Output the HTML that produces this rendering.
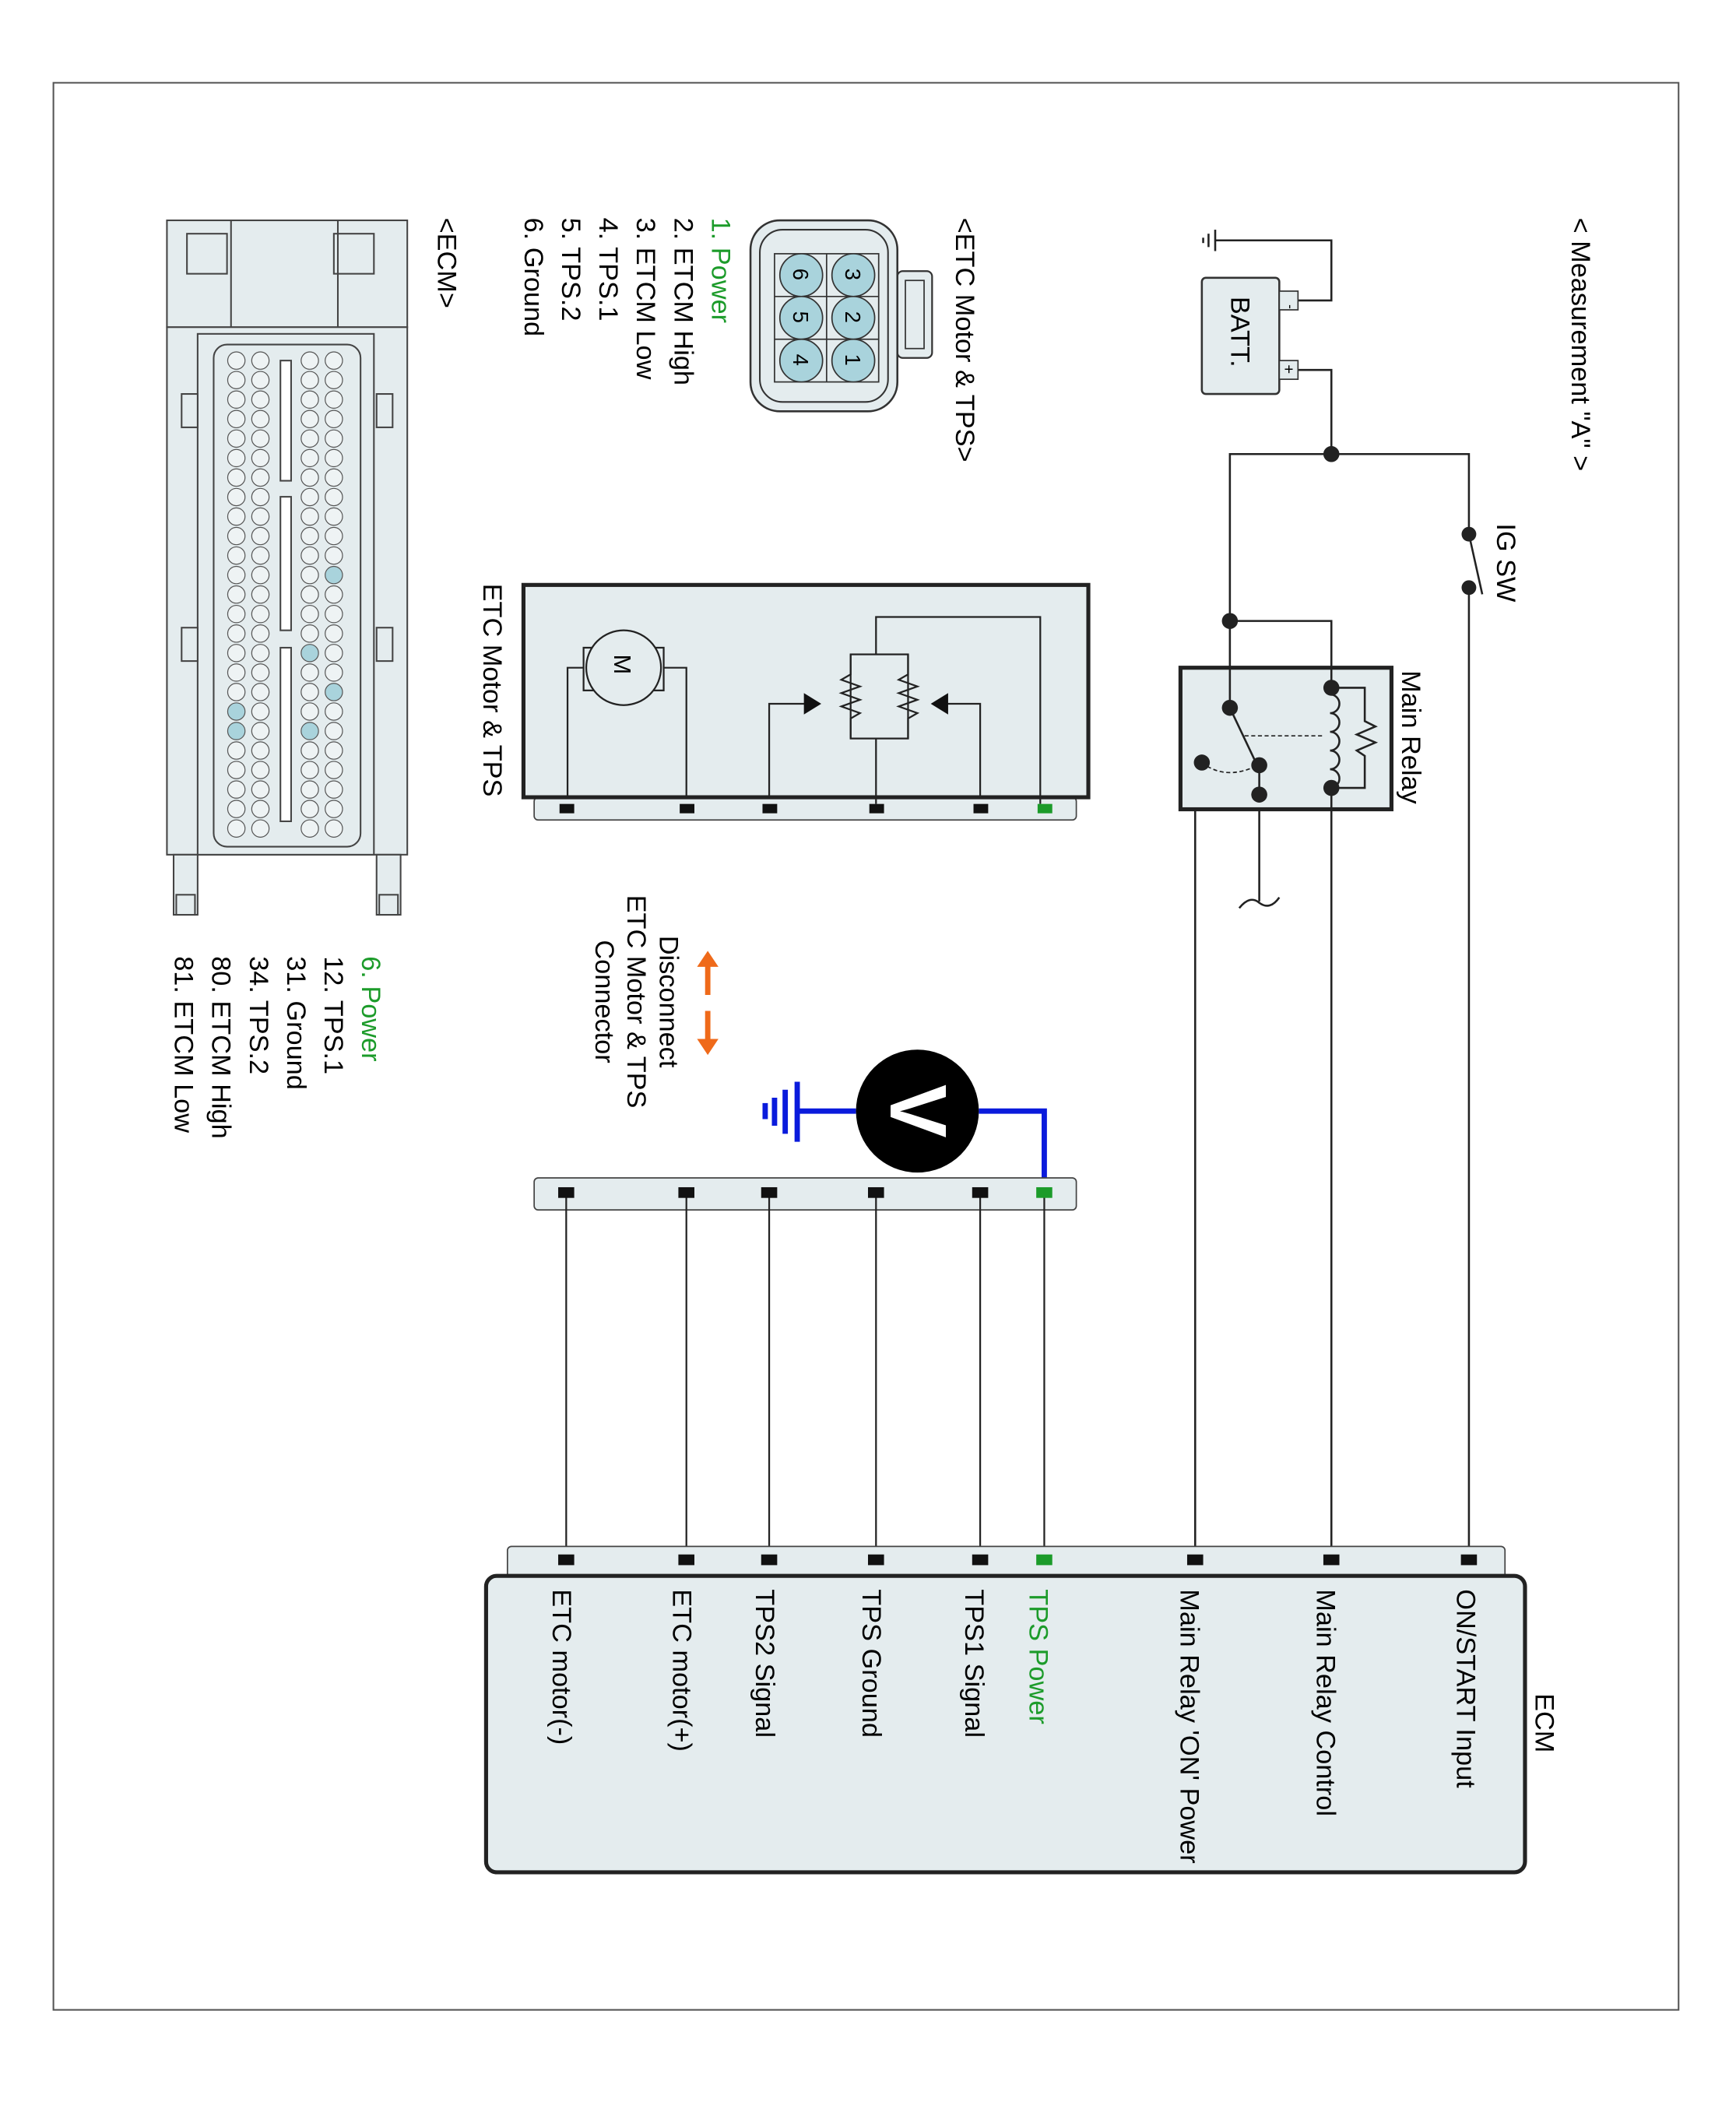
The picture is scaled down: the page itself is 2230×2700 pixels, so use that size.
<!DOCTYPE html>
<html><head><meta charset="utf-8"><style>
html,body{margin:0;padding:0;background:#fff;}
svg{display:block;}
text{font-family:"Liberation Sans",Arial,sans-serif;}
</style></head><body>
<svg width="2230" height="2700" viewBox="0 0 1300 1574" preserveAspectRatio="none" xmlns="http://www.w3.org/2000/svg">
<rect x="40" y="62" width="1217" height="1443" fill="#fff" stroke="#555" stroke-width="1.2"/>
<g fill="none" stroke="#222" stroke-width="1.5">
<!-- battery wiring -->
<polyline points="972,225 997,225 997,180 910,180"/>
<line x1="910" y1="172" x2="910" y2="188"/>
<line x1="905" y1="175" x2="905" y2="185"/>
<line x1="901" y1="178" x2="901" y2="182"/>
<polyline points="972,277 997,277 997,340"/>
<polyline points="921,530 921,340 1100,340 1100,400"/>
<line x1="1100" y1="440" x2="1100" y2="1165"/>
<line x1="1100" y1="400" x2="1110" y2="445"/>
<polyline points="921,465 997,465 997,515"/>
<line x1="997" y1="590" x2="997" y2="1165"/>
<polyline points="943,595 895,595 895,1165"/>
<line x1="943" y1="573" x2="943" y2="675"/>
<path d="M928,680 q8,-10 15,-4 q8,6 15,-4"/>
</g>
<g fill="#222">
<circle cx="997" cy="340" r="6"/><circle cx="921" cy="465" r="6"/>
<circle cx="1100" cy="400" r="5.5"/><circle cx="1100" cy="440" r="5.5"/>
</g>
<!-- battery -->
<rect x="900" y="208" width="58" height="87" rx="3" fill="#e4ecee" stroke="#333" stroke-width="1.5"/>
<rect x="958" y="218" width="14" height="14" fill="#e4ecee" stroke="#333"/>
<rect x="958" y="270" width="14" height="14" fill="#e4ecee" stroke="#333"/>
<text transform="translate(963,228) rotate(90)" font-size="10">-</text>
<text transform="translate(961,273) rotate(90)" font-size="12">+</text>
<text transform="translate(922,222) rotate(90)" font-size="20">BATT.</text>
<text transform="translate(1177,163) rotate(90)" font-size="20">&lt; Measurement "A" &gt;</text>
<text transform="translate(1121,392) rotate(90)" font-size="20">IG SW</text>
<!-- relay -->
<rect x="884" y="500" width="158" height="106" fill="#e4ecee" stroke="#222" stroke-width="3"/>
<text transform="translate(1050,502) rotate(90)" font-size="20">Main Relay</text>
<g fill="none" stroke="#222" stroke-width="1.5">
<line x1="921" y1="500" x2="921" y2="530"/>
<line x1="997" y1="500" x2="997" y2="515"/>
<line x1="997" y1="590" x2="997" y2="606"/>
<path d="M997,520 a7,7 0 0 1 0,14 a7,7 0 0 1 0,14 a7,7 0 0 1 0,14 a7,7 0 0 1 0,14 a7,7 0 0 1 0,14" transform="translate(-1,0)"/>
<polyline points="997,515 1022,515 1022,540 1030,544 1016,550 1030,556 1016,562 1022,566 1022,590 997,590"/>
<line x1="921" y1="530" x2="940" y2="570"/>
<line x1="932" y1="551" x2="992" y2="551" stroke-dasharray="3,2" stroke-width="1"/>
<path d="M900,571 q18,14 42,2" stroke-dasharray="3,2" stroke-width="1"/>
<line x1="943" y1="573" x2="943" y2="595"/>
</g>
<g fill="#222">
<circle cx="997" cy="515" r="6"/><circle cx="997" cy="590" r="6"/>
<circle cx="921" cy="530" r="6"/><circle cx="943" cy="573" r="6"/><circle cx="943" cy="595" r="6"/><circle cx="900" cy="571" r="6"/>
</g>
<!-- ETC motor & TPS box -->
<rect x="400" y="597" width="406" height="17" rx="3" fill="#e4ecee" stroke="#444"/>
<rect x="392" y="438" width="423" height="159" fill="#e4ecee" stroke="#222" stroke-width="3"/>
<text transform="translate(362,437) rotate(90)" font-size="20">ETC Motor &amp; TPS</text>
<g fill="none" stroke="#222" stroke-width="1.3">
<polyline points="425,597 425,500 437,500"/>
<polyline points="514,597 514,500 497,500"/>
<rect x="437" y="485" width="60" height="32" fill="#e4ecee"/>
<polyline points="576,597 576,527 605,527"/>
<polyline points="734,597 734,527 708,527"/>
<polyline points="656,490 656,462 779,462 779,602"/>
<line x1="656" y1="553" x2="656" y2="602"/>
<rect x="637" y="490" width="43" height="63"/>
<polyline points="637,490 637,505 630,509 644,514 630,519 644,524 630,529 644,534 637,538 637,553"/>
<polyline points="680,490 680,505 673,509 687,514 673,519 687,524 673,529 687,534 680,538 680,553"/>
</g>
<circle cx="467" cy="500" r="28" fill="#e4ecee" stroke="#222" stroke-width="1.3"/>
<text transform="translate(460,490) rotate(90)" font-size="18">M</text>
<polygon points="615,527 602,519 602,535" fill="#111"/>
<polygon points="697,527 710,519 710,535" fill="#111"/>
<g fill="#111">
<rect x="419" y="602" width="11" height="7"/><rect x="509" y="602" width="11" height="7"/><rect x="571" y="602" width="11" height="7"/><rect x="651" y="602" width="11" height="7"/><rect x="729" y="602" width="11" height="7"/><rect x="777" y="602" width="11" height="7" fill="#1c9b2a"/>
</g>
<!-- 6-pin connector -->
<rect x="672" y="203" width="26" height="65" rx="4" fill="#e4ecee" stroke="#333" stroke-width="1.3"/>
<rect x="678" y="210" width="14" height="51" fill="none" stroke="#333"/>
<rect x="562" y="165" width="110" height="143" rx="22" fill="#e4ecee" stroke="#333" stroke-width="1.5"/>
<rect x="569" y="172" width="96" height="129" rx="17" fill="none" stroke="#333" stroke-width="1.2"/>
<rect x="580" y="190" width="78" height="96" fill="none" stroke="#333"/>
<line x1="619" y1="190" x2="619" y2="286" stroke="#333"/>
<line x1="580" y1="222" x2="658" y2="222" stroke="#333"/><line x1="580" y1="254" x2="658" y2="254" stroke="#333"/>
<g fill="#a9d3dc" stroke="#333">
<circle cx="600" cy="206" r="16"/><circle cx="600" cy="238" r="16"/><circle cx="600" cy="270" r="16"/>
<circle cx="639" cy="206" r="16"/><circle cx="639" cy="238" r="16"/><circle cx="639" cy="270" r="16"/>
</g>
<g font-size="16">
<text transform="translate(594,201) rotate(90)">6</text><text transform="translate(594,233) rotate(90)">5</text><text transform="translate(594,265) rotate(90)">4</text>
<text transform="translate(633,201) rotate(90)">3</text><text transform="translate(633,233) rotate(90)">2</text><text transform="translate(633,265) rotate(90)">1</text>
</g>
<text transform="translate(716,163) rotate(90)" font-size="20">&lt;ETC Motor &amp; TPS&gt;</text>
<g font-size="20">
<text transform="translate(533,163) rotate(90)" fill="#1c9b2a">1. Power</text>
<text transform="translate(505,163) rotate(90)">2. ETCM High</text>
<text transform="translate(477,163) rotate(90)">3. ETCM Low</text>
<text transform="translate(449,163) rotate(90)">4. TPS.1</text>
<text transform="translate(421,163) rotate(90)">5. TPS.2</text>
<text transform="translate(393,163) rotate(90)">6. Ground</text>
</g>
<!-- ECM connector drawing -->
<g fill="#e4ecee" stroke="#444" stroke-width="1.2">
<rect x="125" y="165" width="180" height="80"/>
<rect x="140" y="175" width="30" height="30" fill="none"/><rect x="250" y="175" width="30" height="30" fill="none"/>
<line x1="173" y1="165" x2="173" y2="245" fill="none"/><line x1="253" y1="165" x2="253" y2="245" fill="none"/>
<rect x="125" y="245" width="180" height="395"/>
<rect x="148" y="250" width="132" height="390"/>
<rect x="160" y="258" width="110" height="376" rx="10"/>
<rect x="210" y="270" width="8" height="90" fill="#fff"/><rect x="210" y="372" width="8" height="100" fill="#fff"/><rect x="210" y="485" width="8" height="130" fill="#fff"/>
<rect x="130" y="640" width="18" height="45"/><rect x="282" y="640" width="18" height="45"/>
<rect x="132" y="670" width="14" height="15"/><rect x="284" y="670" width="14" height="15"/>
<rect x="282" y="295" width="12" height="25"/><rect x="282" y="470" width="12" height="25"/><rect x="136" y="470" width="12" height="25"/><rect x="136" y="295" width="12" height="25"/>
</g>
<g id="pins" fill="#eef3f4" stroke="#555" stroke-width="0.7"></g>
<text transform="translate(328,163) rotate(90)" font-size="20">&lt;ECM&gt;</text>
<g font-size="20">
<text transform="translate(271,716) rotate(90)" fill="#1c9b2a">6. Power</text>
<text transform="translate(243,716) rotate(90)">12. TPS.1</text>
<text transform="translate(215,716) rotate(90)">31. Ground</text>
<text transform="translate(187,716) rotate(90)">34. TPS.2</text>
<text transform="translate(159,716) rotate(90)">80. ETCM High</text>
<text transform="translate(131,716) rotate(90)">81. ETCM Low</text>
</g>
<!-- disconnect -->
<g stroke="#ef6a1a" stroke-width="4" fill="#ef6a1a">
<line x1="530" y1="722" x2="530" y2="745"/><line x1="530" y1="757" x2="530" y2="780"/>
<polygon points="530,712 522,724 538,724" stroke="none"/><polygon points="530,790 522,778 538,778" stroke="none"/>
</g>
<g font-size="20" text-anchor="middle">
<text transform="translate(494,750) rotate(90)">Disconnect</text>
<text transform="translate(470,750) rotate(90)">ETC Motor &amp; TPS</text>
<text transform="translate(446,750) rotate(90)">Connector</text>
</g>
<!-- voltmeter -->
<g stroke="#0a1bdc" stroke-width="4" fill="none">
<polyline points="733,832 782,832 782,893"/>
<line x1="641" y1="832" x2="597" y2="832"/>
<line x1="597" y1="810" x2="597" y2="855"/>
<line x1="588" y1="816" x2="588" y2="849"/>
<line x1="580" y1="822" x2="580" y2="843"/>
<line x1="573" y1="826" x2="573" y2="838"/>
</g>
<circle cx="687" cy="832" r="46" fill="#000"/>
<text transform="translate(667,832) rotate(90)" font-size="60" font-weight="bold" fill="#fff" text-anchor="middle">V</text>
<!-- harness connector -->
<rect x="400" y="882" width="406" height="24" rx="3" fill="#e4ecee" stroke="#444"/>
<g stroke="#222" stroke-width="1.3">
<line x1="424" y1="893" x2="424" y2="1168"/><line x1="514" y1="893" x2="514" y2="1168"/><line x1="576" y1="893" x2="576" y2="1168"/><line x1="656" y1="893" x2="656" y2="1168"/><line x1="734" y1="893" x2="734" y2="1168"/><line x1="782" y1="893" x2="782" y2="1168"/>
</g>
<g fill="#111">
<rect x="418" y="889" width="12" height="8"/><rect x="508" y="889" width="12" height="8"/><rect x="570" y="889" width="12" height="8"/><rect x="650" y="889" width="12" height="8"/><rect x="728" y="889" width="12" height="8"/><rect x="776" y="889" width="12" height="8" fill="#1c9b2a"/>
</g>
<!-- ECM -->
<rect x="380" y="1158" width="747" height="24" rx="3" fill="#e4ecee" stroke="#444"/>
<g fill="#111">
<rect x="418" y="1164" width="12" height="8"/><rect x="508" y="1164" width="12" height="8"/><rect x="570" y="1164" width="12" height="8"/><rect x="650" y="1164" width="12" height="8"/><rect x="728" y="1164" width="12" height="8"/><rect x="776" y="1164" width="12" height="8" fill="#1c9b2a"/><rect x="889" y="1164" width="12" height="8"/><rect x="991" y="1164" width="12" height="8"/><rect x="1094" y="1164" width="12" height="8"/>
</g>
<rect x="364" y="1180" width="778" height="222" rx="8" fill="#e4ecee" stroke="#222" stroke-width="3"/>
<text transform="translate(1150,1268) rotate(90)" font-size="20">ECM</text>
<g font-size="20">
<text transform="translate(1091,1190) rotate(90)">ON/START Input</text>
<text transform="translate(986,1190) rotate(90)">Main Relay Control</text>
<text transform="translate(884,1190) rotate(90)">Main Relay 'ON' Power</text>
<text transform="translate(771,1190) rotate(90)" fill="#1c9b2a">TPS Power</text>
<text transform="translate(723,1190) rotate(90)">TPS1 Signal</text>
<text transform="translate(646,1190) rotate(90)">TPS Ground</text>
<text transform="translate(566,1190) rotate(90)">TPS2 Signal</text>
<text transform="translate(504,1190) rotate(90)">ETC motor(+)</text>
<text transform="translate(414,1190) rotate(90)">ETC motor(-)</text>
</g>
</svg>
<script>
var g=document.getElementById('pins'),xs=[177,195,232,250],ns="http://www.w3.org/2000/svg";
for(var c=0;c<4;c++)for(var r=0;r<25;r++){var e=document.createElementNS(ns,'circle');e.setAttribute('cx',xs[c]);e.setAttribute('cy',270+r*14.6);e.setAttribute('r',6.5);
if((c==3&&(r==17||r==11))||(c==2&&(r==15||r==19))||(c==0&&(r==18||r==19)))e.setAttribute('fill','#a9d3dc');g.appendChild(e);}
</script>
</body></html>
